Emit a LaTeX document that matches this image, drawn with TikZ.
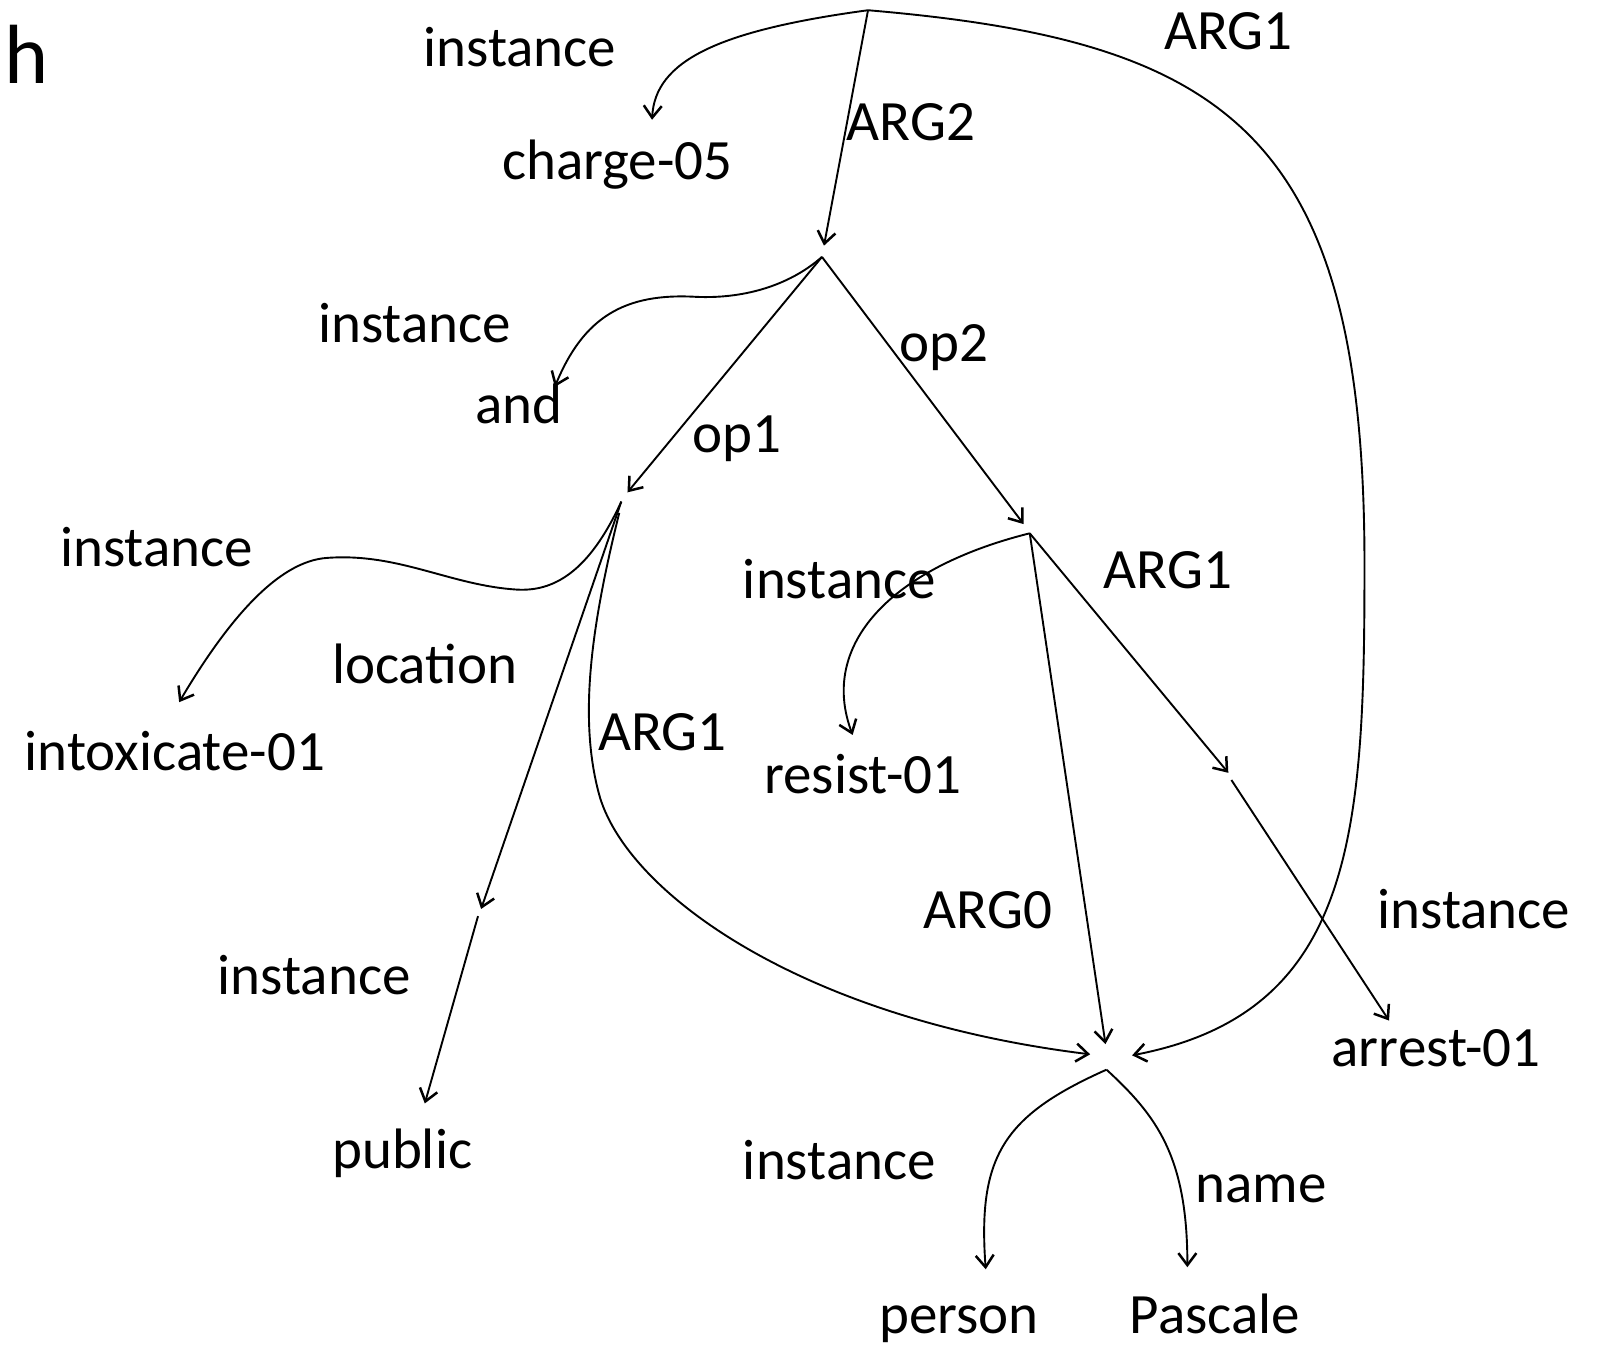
\documentclass[tikz,border=0pt]{standalone}
\usepackage{fontspec}
\setmainfont{Carlito}
\usetikzlibrary{arrows.meta}
\begin{document}
\begin{tikzpicture}[x=1.0236pt,y=-1.0236pt,
  lbl/.style={anchor=base, inner sep=0pt, font=\fontsize{57}{68}\selectfont},
  big/.style={anchor=base west, inner sep=0pt, font=\fontsize{84}{96}\selectfont},
  rel/.style={line width=1.9pt, -{Straight Barb[length=12pt,width=18pt,line width=2.5pt]}}]
\useasboundingbox (0,0) rectangle (1568,1316);

% panel letter
\node[big] (panel) at (4,82) {h};

% edge labels and concept names
\node[lbl] (instA)   at (508,65)   {instance};
\node[lbl] (charge)  at (603,175)  {charge-05};
\node[lbl] (argTwo)  at (890,137)  {ARG2};
\node[lbl] (argOneT) at (1200,48)  {ARG1};
\node[lbl] (instB)   at (405,335)  {instance};
\node[lbl] (and)     at (507,414)  {and};
\node[lbl] (opTwo)   at (922,353)  {op2};
\node[lbl] (opOne)   at (720,442)  {op1};
\node[lbl] (instC)   at (153,553)  {instance};
\node[lbl] (intox)   at (171,753)  {intoxicate-01};
\node[lbl] (loc)     at (415,668)  {location};
\node[lbl] (argOneM) at (647,733)  {ARG1};
\node[lbl] (instD)   at (820,585)  {instance};
\node[lbl] (resist)  at (843,775)  {resist-01};
\node[lbl] (argOneR) at (1141,575) {ARG1};
\node[lbl] (argZero) at (965,907)  {ARG0};
\node[lbl] (instE)   at (1440,907) {instance};
\node[lbl] (arrest)  at (1403,1042) {arrest-01};
\node[lbl] (instF)   at (307,972)  {instance};
\node[lbl] (public)  at (393,1142) {public};
\node[lbl] (instG)   at (820,1152) {instance};
\node[lbl] (name)    at (1232,1175) {name};
\node[lbl] (person)  at (937,1303) {person};
\node[lbl] (pascale) at (1187,1303) {Pascale};

% junction points of the graph
\coordinate (root)     at (848,10);
\coordinate (chargeT)  at (637,117);
\coordinate (andIn)    at (805,240);
\coordinate (andOut)   at (803,251);
\coordinate (andT)     at (542,378);
\coordinate (oneIn)    at (613,481);
\coordinate (oneOut)   at (607,490);
\coordinate (oneOutB)  at (605,501);
\coordinate (twoIn)    at (1000,512);
\coordinate (twoOut)   at (1006,521);
\coordinate (intoxT)   at (175,686);
\coordinate (pubIn)    at (470,888);
\coordinate (pubOut)   at (467,895);
\coordinate (publicT)  at (415,1078);
\coordinate (resistT)  at (833,718);
\coordinate (arrIn)    at (1200,755);
\coordinate (arrOut)   at (1203,762);
\coordinate (arrestT)  at (1357,997);
\coordinate (perTop)   at (1080,1020);
\coordinate (perLeft)  at (1065,1030);
\coordinate (perRight) at (1106,1031);
\coordinate (perOut)   at (1081,1045);
\coordinate (personT)  at (963,1240);
\coordinate (pascaleT) at (1160,1238);

% root
\draw[rel] (root) .. controls (700,30) and (640,60) .. (chargeT);
\draw[rel] (root) -- (andIn);
\draw[rel] (root) .. controls (1200,40) and (1335,130) .. (1333,560)
                  .. controls (1333,820) and (1320,990) .. (perRight);

% and
\draw[rel] (andOut) .. controls (770,280) and (725,292) .. (680,290)
                    .. controls (610,286) and (570,310) .. (andT);
\draw[rel] (andOut) -- (oneIn);
\draw[rel] (andOut) -- (twoIn);

% op1
\draw[rel] (oneOut) .. controls (575,560) and (540,578) .. (505,576)
                    .. controls (440,572) and (390,540) .. (320,545)
                    .. controls (270,548) and (220,610) .. (intoxT);
\draw[rel] (oneOut) -- (pubIn);
\draw[rel] (pubOut) -- (publicT);
\draw[rel] (oneOutB) .. controls (578,610) and (565,700) .. (585,775)
                     .. controls (610,870) and (780,995) .. (perLeft);

% op2
\draw[rel] (twoOut) .. controls (870,555) and (800,630) .. (resistT);
\draw[rel] (twoOut) -- (perTop);
\draw[rel] (twoOut) -- (arrIn);
\draw[rel] (arrOut) -- (arrestT);

% person
\draw[rel] (perOut) .. controls (980,1090) and (955,1130) .. (personT);
\draw[rel] (perOut) .. controls (1130,1090) and (1160,1130) .. (pascaleT);
\end{tikzpicture}
\end{document}
